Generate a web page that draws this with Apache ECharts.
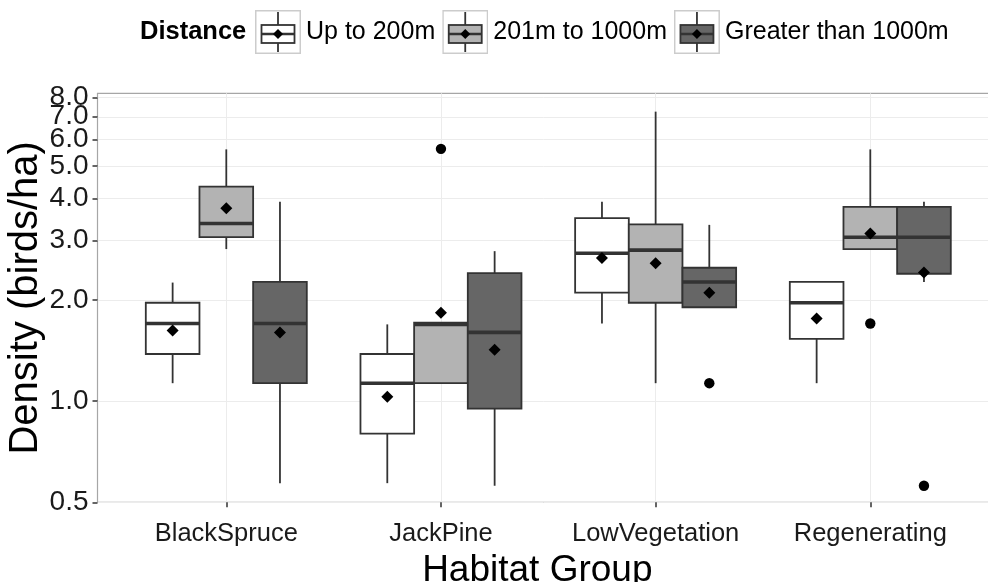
<!DOCTYPE html>
<html>
<head>
<meta charset="utf-8">
<script src="https://cdn.jsdelivr.net/npm/echarts@6/dist/echarts.min.js"></script>
<style>
html,body{margin:0;padding:0;background:#fff;}
#chart{width:988px;height:582px;}
</style>
</head>
<body>
<div id="chart"></div>
<script>
// ---------- data ----------
const categories = ['BlackSpruce', 'JackPine', 'LowVegetation', 'Regenerating'];
const seriesNames = ['Up to 200m', '201m to 1000m', 'Greater than 1000m'];
const yTicks = [0.5, 1, 2, 3, 4, 5, 6, 7, 8];

// [lower whisker, Q1, median, Q3, upper whisker] per category
const upTo200Box = [
  [1.13, 1.38, 1.70, 1.96, 2.25],
  [0.57, 0.80, 1.13, 1.38, 1.69],
  [1.70, 2.10, 2.75, 3.50, 3.91],
  [1.13, 1.53, 1.96, 2.26, 2.26]
];
const upTo200Mean = [1.62, 1.03, 2.66, 1.76];

const to1000Box = [
  [2.83, 3.07, 3.37, 4.34, 5.60],
  [1.13, 1.13, 1.69, 1.71, 1.71],
  [1.13, 1.96, 2.81, 3.35, 7.25],
  [2.83, 2.83, 3.07, 3.78, 5.60]
];
const to1000Mean = [3.74, 1.83, 2.57, 3.15];

const over1000Box = [
  [0.57, 1.13, 1.70, 2.26, 3.91],
  [0.56, 0.95, 1.60, 2.40, 2.79],
  [1.90, 1.90, 2.26, 2.49, 3.34],
  [2.26, 2.39, 3.07, 3.78, 3.91]
];
const over1000Mean = [1.60, 1.42, 2.10, 2.41];

// outliers: [category index, distance-group index, value]
const outliers = [
  [1, 1, 5.62],
  [2, 2, 1.13],
  [3, 1, 1.70],
  [3, 2, 0.56]
];

const boxColors = ['#ffffff', '#b3b3b3', '#666666'];
// ---------- build ----------
const FONT = "'Liberation Sans', Arial, Helvetica, sans-serif";
const boxes = [upTo200Box, to1000Box, over1000Box];
const means = [upTo200Mean, to1000Mean, over1000Mean];
const DODGE = 0.25; // fraction of category step per box

// label order chosen so that the first/last pairs never collide
// (ECharts hides the min/max label when it overlaps its neighbour)
const yLabelOrder = [yTicks[0], yTicks[8], yTicks[4], yTicks[7], yTicks[2], yTicks[6], yTicks[3], yTicks[5], yTicks[1]];

function boxRender(sIdx) {
  return function (params, api) {
    const cat = api.value(0);
    const low = api.value(1), q1 = api.value(2), med = api.value(3),
          q3 = api.value(4), high = api.value(5), mean = api.value(6);
    const step = api.coord([cat + 1, 1])[0] - api.coord([cat, 1])[0];
    const x = api.coord([cat, 1])[0] + (sIdx - 1) * step * DODGE;
    const hw = step * DODGE / 2;
    const yLow = api.coord([cat, low])[1];
    const yQ1 = api.coord([cat, q1])[1];
    const yMed = api.coord([cat, med])[1];
    const yQ3 = api.coord([cat, q3])[1];
    const yHigh = api.coord([cat, high])[1];
    const yMean = api.coord([cat, mean])[1];
    const stroke = '#333333';
    const d = 6;
    return {
      type: 'group',
      children: [
        { type: 'line', shape: { x1: x, y1: yHigh, x2: x, y2: yQ3 }, style: { stroke, lineWidth: 1.8 } },
        { type: 'line', shape: { x1: x, y1: yQ1, x2: x, y2: yLow }, style: { stroke, lineWidth: 1.8 } },
        { type: 'rect', shape: { x: x - hw, y: yQ3, width: hw * 2, height: yQ1 - yQ3 },
          style: { fill: boxColors[sIdx], stroke, lineWidth: 1.8 } },
        { type: 'line', shape: { x1: x - hw, y1: yMed, x2: x + hw, y2: yMed }, style: { stroke, lineWidth: 3.6 } },
        { type: 'polygon', shape: { points: [[x, yMean - d], [x + d, yMean], [x, yMean + d], [x - d, yMean]] },
          style: { fill: '#000' } }
      ]
    };
  };
}

function outlierRender(params, api) {
  const cat = api.value(0), sIdx = api.value(1), v = api.value(2);
  const step = api.coord([cat + 1, 1])[0] - api.coord([cat, 1])[0];
  const p = api.coord([cat, v]);
  return { type: 'circle', shape: { cx: p[0] + (sIdx - 1) * step * DODGE, cy: p[1], r: 5.2 }, style: { fill: '#000' } };
}

function keyIcon(fill) {
  const svg = '<svg xmlns="http://www.w3.org/2000/svg" width="46" height="44" viewBox="0 0 46 44">' +
    '<rect x="0.75" y="0.75" width="44.5" height="42.5" fill="#ffffff" stroke="#cccccc" stroke-width="1.5"/>' +
    '<line x1="23" y1="2" x2="23" y2="15" stroke="#333333" stroke-width="1.8"/>' +
    '<line x1="23" y1="33" x2="23" y2="42" stroke="#333333" stroke-width="1.8"/>' +
    '<rect x="6.5" y="15" width="33" height="18" fill="' + fill + '" stroke="#333333" stroke-width="1.8"/>' +
    '<line x1="6.5" y1="24" x2="39.5" y2="24" stroke="#333333" stroke-width="2.6"/>' +
    '<polygon points="23,19 28,24 23,29 18,24" fill="#000000"/>' +
    '</svg>';
  return 'image://data:image/svg+xml;charset=utf-8,' + encodeURIComponent(svg);
}

const series = seriesNames.map(function (name, s) {
  return {
    name: name,
    type: 'custom',
    renderItem: boxRender(s),
    itemStyle: { color: boxColors[s] },
    encode: { x: 0, y: [1, 2, 3, 4, 5, 6] },
    data: categories.map(function (c, i) {
      return [i].concat(boxes[s][i]).concat([means[s][i]]);
    }),
    z: 2
  };
});
series.push({
  type: 'custom',
  renderItem: outlierRender,
  encode: { x: 0, y: 2 },
  data: outliers,
  z: 3
});

const chart = echarts.init(document.getElementById('chart'), null, { renderer: 'canvas' });
chart.setOption({
  animation: false,
  backgroundColor: '#ffffff',
  textStyle: { fontFamily: FONT },
  title: {
    text: 'Distance',
    left: 140, top: 19, padding: 0,
    textStyle: { fontSize: 25.5, fontWeight: 'bold', color: '#000', fontFamily: FONT }
  },
  legend: {
    left: 255, top: 10, padding: 0,
    itemWidth: 46, itemHeight: 44, itemGap: 7,
    selectedMode: false,
    textStyle: { fontSize: 25, color: '#000', fontFamily: FONT },
    data: seriesNames.map(function (n, s) { return { name: n, icon: keyIcon(boxColors[s]) }; })
  },
  grid: {
    left: 97.5, top: 93.3, width: 901.6, height: 409,
    containLabel: false, outerBoundsMode: 'none',
    show: true, borderColor: '#a6a6a6', borderWidth: 1.2, backgroundColor: '#ffffff'
  },
  xAxis: {
    type: 'value', min: -0.6, max: 3.6,
    name: 'Habitat Group', nameLocation: 'middle', nameGap: 36,
    nameTextStyle: { fontSize: 37, color: '#000', fontFamily: FONT, padding: [0, 22, 0, 0] },
    axisLine: { show: false, onZero: false },
    axisTick: { show: true, length: 5, customValues: [0, 1, 2, 3], lineStyle: { color: '#333', width: 1.5 } },
    axisLabel: {
      customValues: [0, 1, 2, 3], fontSize: 25.5, color: '#1a1a1a', margin: 19, fontFamily: FONT,
      hideOverlap: false,
      formatter: function (v) { return categories[Math.round(v)]; }
    },
    splitLine: { show: true, lineStyle: { color: '#ececec', width: 1 } }
  },
  yAxis: {
    type: 'log', logBase: 2, min: 0.5, max: 8.22,
    name: 'Density (birds/ha)', nameLocation: 'middle', nameGap: 52, nameMoveOverlap: false,
    nameTextStyle: { fontSize: 40, color: '#000', fontFamily: FONT },
    axisLine: { show: false, onZero: false },
    axisTick: { show: true, length: 5, customValues: yTicks, lineStyle: { color: '#333', width: 1.5 } },
    axisLabel: {
      customValues: yLabelOrder, fontSize: 28, color: '#1a1a1a', margin: 9, fontFamily: FONT,
      hideOverlap: false,
      formatter: function (v) { return Number(v).toFixed(1); }
    },
    splitLine: { show: true, lineStyle: { color: '#ececec', width: 1 } }
  },
  series: series
});
</script>
</body>
</html>
